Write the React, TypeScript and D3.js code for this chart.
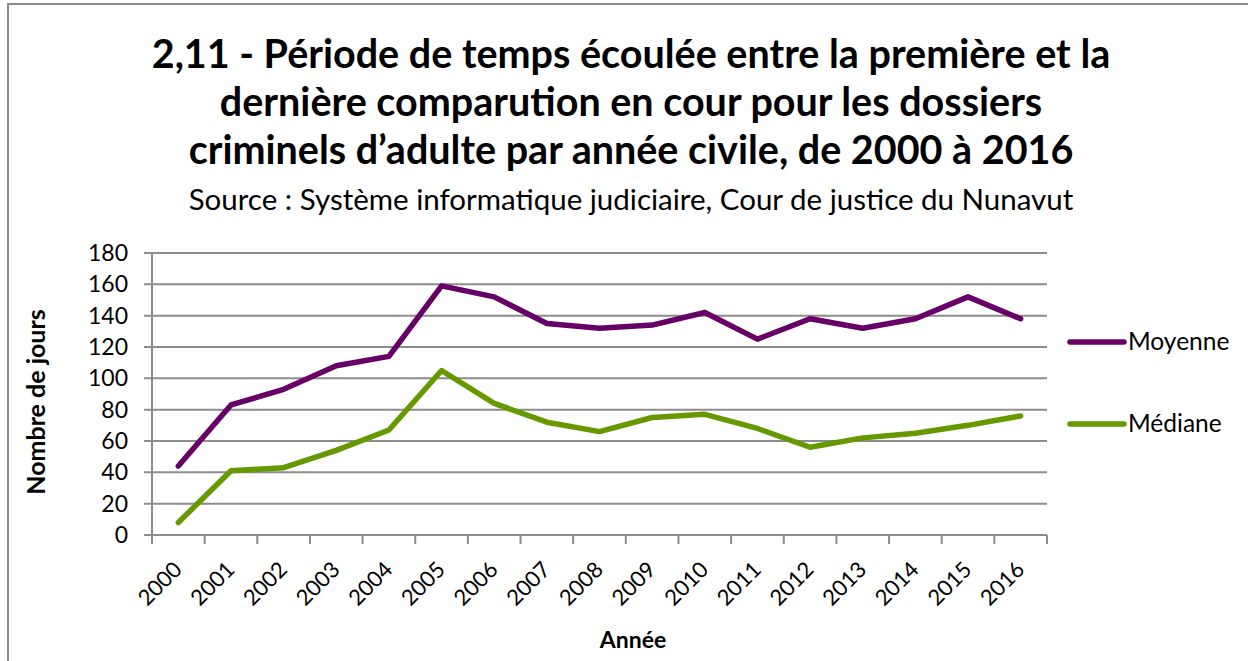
import React from "react";
import * as d3 from "d3";

const years = ["2000","2001","2002","2003","2004","2005","2006","2007","2008","2009","2010","2011","2012","2013","2014","2015","2016"];
const moyenne = [44, 83, 93, 108, 114, 159, 152, 135, 132, 134, 142, 125, 138, 132, 138, 152, 138];
const mediane = [8, 41, 43, 54, 67, 105, 84, 72, 66, 75, 77, 68, 56, 62, 65, 70, 76];
const yTicks = [0, 20, 40, 60, 80, 100, 120, 140, 160, 180];
const titleLines = [
  "2,11 - Période de temps écoulée entre la première et la",
  "dernière comparution en cour pour les dossiers",
  "criminels d’adulte par année civile, de 2000 à 2016",
];
const subtitle = "Source : Système informatique judiciaire, Cour de justice du Nunavut";
const series = [
  { name: "Moyenne", values: moyenne, color: "#660066" },
  { name: "Médiane", values: mediane, color: "#669900" },
];

export default function App() {
  const W = 1248, H = 661;
  const left = 152, right = 1047, top = 253, bottom = 535;
  const x = d3.scaleBand<string>().domain(years).range([left, right]);
  const y = d3.scaleLinear().domain([0, 180]).range([bottom, top]);
  const line = d3.line<number>()
    .x((_, i) => (x(years[i]) as number) + x.bandwidth() / 2)
    .y((d) => y(d));
  const font = "Lato, 'Open Sans', sans-serif";
  const grid = "#8c8c8c";
  return (
    <svg width={W} height={H} style={{ position: "absolute", left: 0, top: 0, background: "#fff" }} fontFamily={font}>
      <rect x={0} y={0} width={W} height={H} fill="#fff" />
      <path d={`M8,${H} L8,4 L${W},4`} fill="none" stroke="#8a8a8a" strokeWidth={2} />
      {titleLines.map((t, i) => (
        <text key={i} x={631} y={68 + i * 48} textAnchor="middle" fontSize={39.5} fontWeight={700} fill="#000">{t}</text>
      ))}
      <text x={631} y={210} textAnchor="middle" fontSize={29.5} fill="#000">{subtitle}</text>
      {yTicks.map((t) => (
        <g key={t}>
          <line x1={left - 8} x2={right} y1={y(t)} y2={y(t)} stroke={grid} strokeWidth={2} />
          <text x={128} y={y(t) + 8} textAnchor="end" fontSize={23} fill="#000">{t}</text>
        </g>
      ))}
      <line x1={left} x2={left} y1={top} y2={bottom} stroke={grid} strokeWidth={2} />
      {years.map((yr) => (
        <line key={yr} x1={(x(yr) as number)} x2={(x(yr) as number)} y1={bottom} y2={bottom + 9} stroke={grid} strokeWidth={2} />
      ))}
      <line x1={right} x2={right} y1={bottom} y2={bottom + 9} stroke={grid} strokeWidth={2} />
      {years.map((yr) => {
        const cx = (x(yr) as number) + x.bandwidth() / 2 + 5;
        return (
          <text key={yr} transform={`translate(${cx},${bottom + 36}) rotate(-45)`} textAnchor="end" fontSize={22} fill="#000">{yr}</text>
        );
      })}
      <text transform={`translate(45,402) rotate(-90)`} textAnchor="middle" fontSize={25} fontWeight={700} fill="#000">Nombre de jours</text>
      <text x={633} y={648} textAnchor="middle" fontSize={23} fontWeight={700} fill="#000">Année</text>
      {series.map((s) => (
        <path key={s.name} d={line(s.values) || ""} fill="none" stroke={s.color} strokeWidth={5.5} strokeLinejoin="round" strokeLinecap="round" />
      ))}
      {series.map((s, i) => (
        <g key={s.name}>
          <line x1={1070} x2={1124} y1={342 + i * 82} y2={342 + i * 82} stroke={s.color} strokeWidth={5.5} strokeLinecap="round" />
          <text x={1128} y={350 + i * 82} fontSize={24.5} fill="#000">{s.name}</text>
        </g>
      ))}
    </svg>
  );
}
